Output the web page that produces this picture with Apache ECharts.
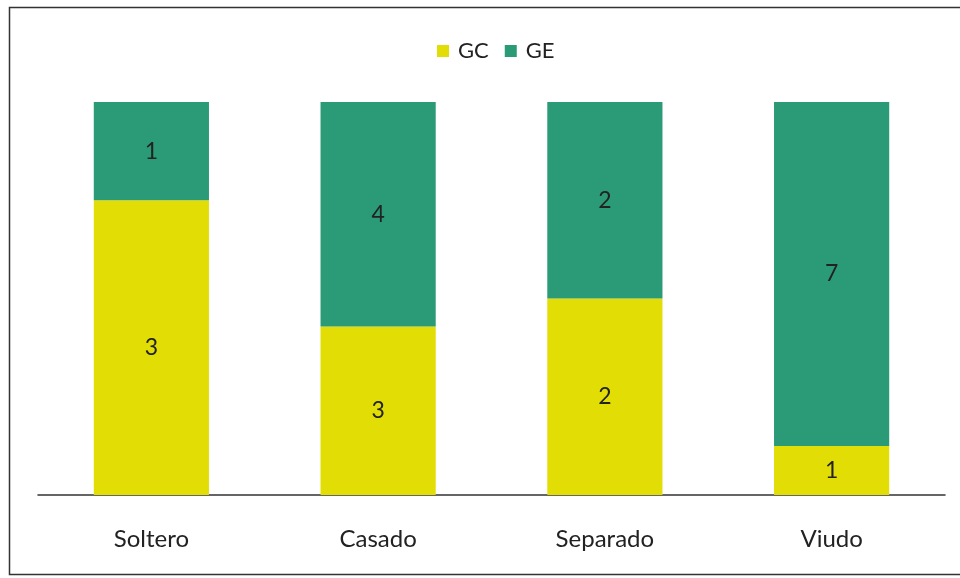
<!DOCTYPE html>
<html><head><meta charset="utf-8">
<script src="https://cdn.jsdelivr.net/npm/echarts@6/dist/echarts.min.js"></script>
<style>html,body{margin:0;padding:0;background:#fff}#c{width:960px;height:578px}</style>
</head><body><div id="c"></div>
<script>
const categories = ['Soltero', 'Casado', 'Separado', 'Viudo'];
const gcValues = [3, 3, 2, 1];
const geValues = [1, 4, 2, 7];
const seriesNames = ['GC', 'GE'];

const totals = categories.map((_, i) => gcValues[i] + geValues[i]);
const share = (arr) => arr.map((v, i) => ({ value: v / totals[i] * 100, raw: v }));

const chart = echarts.init(document.getElementById('c'));
const font = 'Lato, "Open Sans", sans-serif';
chart.setOption({
  animation: false,
  textStyle: { fontFamily: font },
  graphic: [{ type: 'rect', shape: { x: 9.5, y: 7.5, width: 960, height: 567 }, style: { fill: 'none', stroke: '#333', lineWidth: 1.5 } }],
  legend: {
    top: 35, left: 432, itemWidth: 12, itemHeight: 12, itemGap: 16,
    icon: 'rect',
    textStyle: { fontSize: 22, color: '#222', fontFamily: font, padding: [0, 0, 0, 4] },
    data: seriesNames
  },
  grid: { left: 38, right: 15, top: 102, bottom: 83 },
  xAxis: {
    type: 'category', data: categories,
    axisLine: { lineStyle: { color: '#333', width: 1.5 } },
    axisTick: { show: false },
    axisLabel: { fontSize: 24, color: '#222', margin: 32, fontFamily: font }
  },
  yAxis: { type: 'value', min: 0, max: 100, show: false, splitLine: { show: false } },
  series: [
    { name: 'GC', type: 'bar', stack: 's', barWidth: '50.8%', data: share(gcValues),
      itemStyle: { color: '#E2DE05' },
      label: { show: true, position: 'inside', fontSize: 23, color: '#222', fontFamily: font, formatter: p => p.data.raw } },
    { name: 'GE', type: 'bar', stack: 's', barWidth: '50.8%', data: share(geValues),
      itemStyle: { color: '#2B9B77' },
      label: { show: true, position: 'inside', fontSize: 23, color: '#222', fontFamily: font, formatter: p => p.data.raw } }
  ]
});
</script></body></html>
